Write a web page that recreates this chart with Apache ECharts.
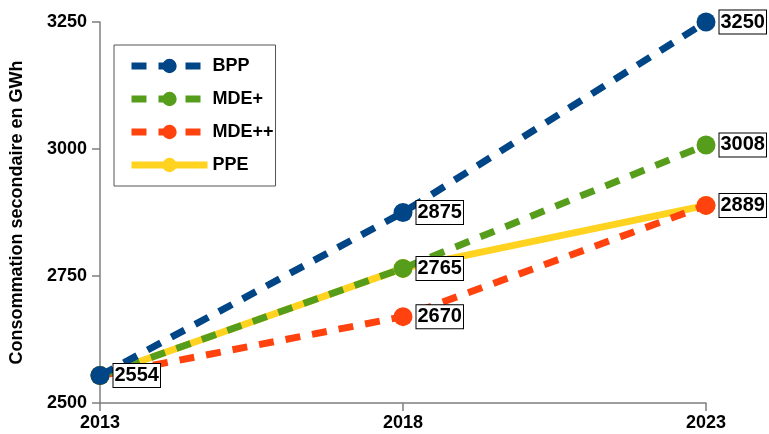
<!DOCTYPE html>
<html>
<head>
<meta charset="utf-8">
<script src="https://cdn.jsdelivr.net/npm/echarts@6/dist/echarts.min.js"></script>
<style>
  html, body { margin: 0; padding: 0; background: #fff; }
  #chart { width: 769px; height: 434px; }
</style>
</head>
<body>
<div id="chart"></div>
<script>
// Secondary energy consumption (GWh) by scenario
const years = ['2013', '2018', '2023'];
const bpp = [2554, 2875, 3250];
const mdePlus = [2554, 2765, 3008];
const mdePlusPlus = [2554, 2670, 2889];
const ppe = [2554, 2765, 2889];
// which points carry a value label, per series
const bppLabels = [true, true, true];
const mdePlusLabels = [false, true, true];
const mdePlusPlusLabels = [false, true, true];

const FONT = '"Liberation Sans", Arial, sans-serif';
const dash = [15, 12];

const valueLabel = {
  show: true,
  position: 'right',
  distance: 4,
  color: '#000',
  fontFamily: FONT,
  fontWeight: 'bold',
  fontSize: 20,
  lineHeight: 22,
  backgroundColor: '#fff',
  borderColor: '#000',
  borderWidth: 1,
  padding: [1, 1, 0, 1]
};

function withLabels(values, flags) {
  return values.map((v, i) => ({ value: v, label: { show: flags[i] } }));
}

function series(name, color, values, flags, lineType, z) {
  return {
    name,
    type: 'line',
    z,
    data: flags ? withLabels(values, flags) : values,
    symbol: 'circle',
    symbolSize: 19,
    showSymbol: true,
    color,
    itemStyle: { color },
    lineStyle: { color, width: 7, type: lineType, cap: 'butt' },
    label: flags ? valueLabel : { show: false },
    emphasis: { disabled: true },
    animation: false
  };
}

const chart = echarts.init(document.getElementById('chart'), null, { renderer: 'canvas' });
chart.setOption({
  backgroundColor: '#fff',
  animation: false,
  grid: { left: 100, right: 63, top: 22, bottom: 31, containLabel: false },
  legend: {
    orient: 'vertical',
    left: 114,
    top: 45,
    padding: [12, 2, 12, 14],
    itemGap: 15,
    itemWidth: 76,
    itemHeight: 18,
    borderColor: '#555',
    borderWidth: 1,
    backgroundColor: '#fff',
    lineStyle: { width: 7 },
    itemStyle: { borderWidth: 0 },
    textStyle: { fontFamily: FONT, fontWeight: 'bold', fontSize: 18, color: '#000' },
    data: ['BPP', 'MDE+', 'MDE++', 'PPE']
  },
  xAxis: {
    type: 'category',
    data: years,
    boundaryGap: false,
    axisLine: { lineStyle: { color: '#7f7f7f', width: 1.5 } },
    axisTick: { show: true, length: 8, alignWithLabel: true, lineStyle: { color: '#7f7f7f', width: 1.5 } },
    axisLabel: { margin: 11, color: '#000', fontFamily: FONT, fontWeight: 'bold', fontSize: 18 },
    splitLine: { show: false }
  },
  yAxis: {
    type: 'value',
    min: 2500,
    max: 3250,
    interval: 250,
    name: 'Consommation secondaire en GWh',
    nameLocation: 'middle',
    nameGap: 74,
    nameTextStyle: { color: '#000', fontFamily: FONT, fontWeight: 'bold', fontSize: 18 },
    axisLine: { show: true, lineStyle: { color: '#7f7f7f', width: 1.5 } },
    axisTick: { show: true, length: 8, lineStyle: { color: '#7f7f7f', width: 1.5 } },
    axisLabel: {
      margin: 13, color: '#000', fontFamily: FONT, fontWeight: 'bold', fontSize: 18,
      formatter: (v) => String(v)
    },
    splitLine: { show: false }
  },
  series: [
    series('PPE', '#ffd320', ppe, null, 'solid', 1),
    series('MDE++', '#ff420e', mdePlusPlus, mdePlusPlusLabels, dash, 2),
    series('MDE+', '#579d1c', mdePlus, mdePlusLabels, dash, 3),
    series('BPP', '#004586', bpp, bppLabels, dash, 4)
  ]
});
</script>
</body>
</html>
